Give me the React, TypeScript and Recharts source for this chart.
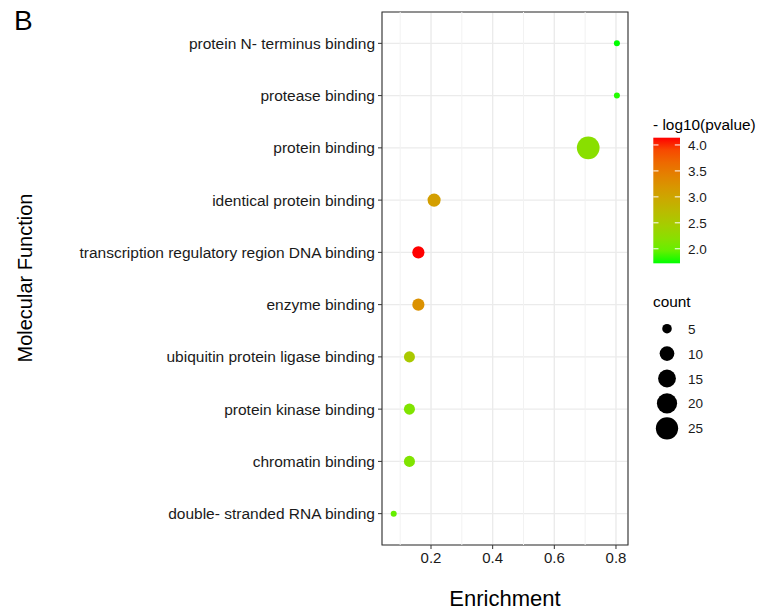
import React from "react";
import {ScatterChart,Scatter,XAxis,YAxis,CartesianGrid,ReferenceLine,ReferenceArea,} from "recharts";

// top to bottom, as in the figure
const terms = [
  "protein N- terminus binding",
  "protease binding",
  "protein binding",
  "identical protein binding",
  "transcription regulatory region DNA binding",
  "enzyme binding",
  "ubiquitin protein ligase binding",
  "protein kinase binding",
  "chromatin binding",
  "double- stranded RNA binding",
];
const enrichment = [0.803, 0.803, 0.71, 0.21, 0.159, 0.159, 0.13, 0.13, 0.13, 0.079];
const counts = [4, 4, 26, 8, 7, 7, 6, 6, 6, 4];
const logP = [1.72, 1.75, 2.2, 3.1, 4.14, 3.25, 2.52, 2.13, 2.13, 1.96];

const xTicks = [0.2, 0.4, 0.6, 0.8];
const xMinor = [0.1, 0.3, 0.5, 0.7];
const colorTicks = [2.0, 2.5, 3.0, 3.5, 4.0];
const sizeKeys = [5, 10, 15, 20, 25];

const FONT = "'Liberation Sans', Arial, sans-serif";

const data = terms.map((term, i) => ({
  term,
  rank: terms.length - i,
  enrichment: enrichment[i],
  count: counts[i],
  logP: logP[i],
}));

const pMin = Math.min(...logP);
const pMax = Math.max(...logP);
const cMin = Math.min(...counts);
const cMax = Math.max(...counts);

// ggplot-style gradient (green -> red) interpolated in Lab
function toLab(hex: string) {
  const c = [1, 3, 5].map((k) => parseInt(hex.slice(k, k + 2), 16) / 255)
    .map((v) => (v <= 0.04045 ? v / 12.92 : Math.pow((v + 0.055) / 1.055, 2.4)));
  const X = (0.4124 * c[0] + 0.3576 * c[1] + 0.1805 * c[2]) / 0.95047;
  const Y = 0.2126 * c[0] + 0.7152 * c[1] + 0.0722 * c[2];
  const Z = (0.0193 * c[0] + 0.1192 * c[1] + 0.9505 * c[2]) / 1.08883;
  const f = (t: number) => (t > 0.008856 ? Math.cbrt(t) : 7.787 * t + 16 / 116);
  return [116 * f(Y) - 16, 500 * (f(X) - f(Y)), 200 * (f(Y) - f(Z))];
}
function fromLab([L, a, b]: number[]) {
  const fy = (L + 16) / 116, fx = fy + a / 500, fz = fy - b / 200;
  const inv = (t: number) => (t * t * t > 0.008856 ? t * t * t : (t - 16 / 116) / 7.787);
  const X = 0.95047 * inv(fx), Y = inv(fy), Z = 1.08883 * inv(fz);
  const lin = [
    3.2406 * X - 1.5372 * Y - 0.4986 * Z,
    -0.9689 * X + 1.8758 * Y + 0.0415 * Z,
    0.0557 * X - 0.204 * Y + 1.057 * Z,
  ];
  return "#" + lin.map((v) => {
    const g = v <= 0.0031308 ? 12.92 * v : 1.055 * Math.pow(v, 1 / 2.4) - 0.055;
    const n = Math.round(Math.min(1, Math.max(0, g)) * 255);
    return n.toString(16).padStart(2, "0");
  }).join("");
}
const LOW = toLab("#00ff00");
const HIGH = toLab("#ff0000");
const colorAt = (t: number) => fromLab(LOW.map((v, k) => v + (HIGH[k] - v) * t));
const colorOf = (p: number) => colorAt((p - pMin) / (pMax - pMin));

// area scaling like scale_size
const diamOf = (c: number) => 6 + 16.7 * Math.sqrt(Math.max(0, (c - cMin) / (cMax - cMin)));

const Dot = (props: any) => {
  const { cx, cy, payload } = props;
  if (cx == null || cy == null) return null;
  return <circle cx={cx} cy={cy} r={diamOf(payload.count) / 2} fill={colorOf(payload.logP)} />;
};

const barTop = 137.7;
const barH = 125.6;
const barY = (v: number) => barTop + ((pMax - v) / (pMax - pMin)) * barH;

export default function App() {
  const tickStyle = { fill: "#1a1a1a", fontSize: 15.5, fontFamily: FONT };
  return (
    <div style={{ position: "relative", width: 766, height: 614, margin: -8, background: "#fff" }}>
      <ScatterChart width={766} height={614} margin={{ top: 12, right: 138, bottom: 0, left: 0 }}>
        <CartesianGrid stroke="#ebebeb" strokeWidth={1.4} verticalPoints={undefined} />
        {xMinor.map((v) => (
          <ReferenceLine key={v} x={v} stroke="#f2f2f2" strokeWidth={1} />
        ))}
        <XAxis
          type="number"
          dataKey="enrichment"
          domain={[0.041, 0.839]}
          ticks={xTicks}
          allowDataOverflow
          height={69}
          axisLine={false}
          tickLine={{ stroke: "#333333" }}
          tickSize={4}
          tickMargin={3}
          tick={{ ...tickStyle, fontSize: 15 }}
          tickFormatter={(v: number) => v.toFixed(1)}
        />
        <YAxis
          type="number"
          dataKey="rank"
          domain={[0.4, terms.length + 0.6]}
          ticks={data.map((d) => d.rank)}
          allowDataOverflow
          width={382}
          axisLine={false}
          tickLine={{ stroke: "#333333" }}
          tickSize={4}
          tickMargin={3}
          tick={tickStyle}
          tickFormatter={(v: number) => terms[terms.length - v]}
        />
        <ReferenceArea
          x1={0.041}
          x2={0.839}
          y1={0.4}
          y2={terms.length + 0.6}
          fill="none"
          stroke="#333333"
          strokeWidth={1.1}
          ifOverflow="visible"
        />
        <Scatter data={data} shape={Dot} isAnimationActive={false} />
      </ScatterChart>

      <svg width={766} height={614} style={{ position: "absolute", left: 0, top: 0, pointerEvents: "none" }}
        fontFamily={FONT}>
        <text x={14} y={30} fontSize={28} fill="#000">B</text>
        <text x={505} y={606} fontSize={22} textAnchor="middle" fill="#000">Enrichment</text>
        <text x={32} y={278} fontSize={20} textAnchor="middle" fill="#000"
          transform="rotate(-90 32 278)">Molecular Function</text>

        <defs>
          <linearGradient id="pgrad" x1="0" y1="1" x2="0" y2="0">
            {Array.from({ length: 11 }, (_, k) => (
              <stop key={k} offset={k / 10} stopColor={colorAt(k / 10)} />
            ))}
          </linearGradient>
        </defs>
        <text x={653} y={130} fontSize={15.4} fill="#000">- log10(pvalue)</text>
        <rect x={653.3} y={barTop} width={26.7} height={barH} fill="url(#pgrad)" />
        {colorTicks.map((v) => (
          <g key={v}>
            <line x1={653.3} x2={658.5} y1={barY(v)} y2={barY(v)} stroke="#fff" strokeWidth={1} />
            <line x1={674.8} x2={680} y1={barY(v)} y2={barY(v)} stroke="#fff" strokeWidth={1} />
            <text x={688} y={barY(v) + 5} fontSize={13.5} fill="#1a1a1a">{v.toFixed(1)}</text>
          </g>
        ))}

        <text x={653} y={307} fontSize={15.4} fill="#000">count</text>
        {sizeKeys.map((c, k) => {
          const cy = 328.7 + k * 24.9;
          return (
            <g key={c}>
              <circle cx={667} cy={cy} r={diamOf(c) / 2} fill="#000" />
              <text x={688} y={cy + 5} fontSize={13.5} fill="#1a1a1a">{c}</text>
            </g>
          );
        })}
      </svg>
    </div>
  );
}
